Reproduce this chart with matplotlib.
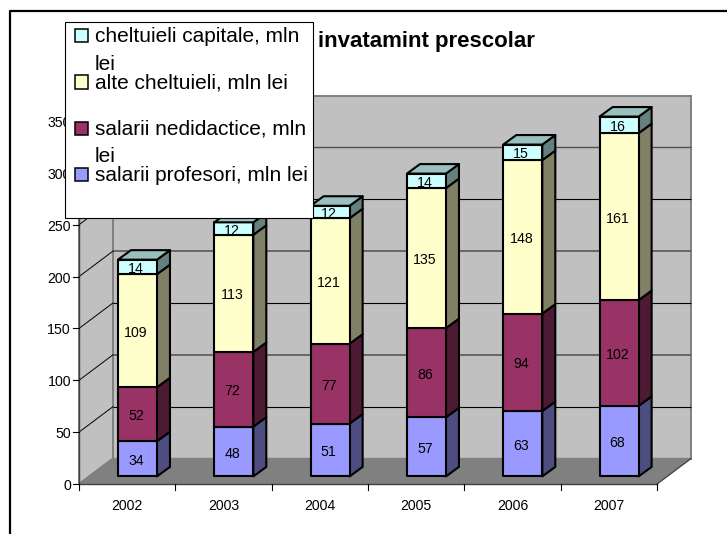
import numpy as np
import matplotlib
matplotlib.use("Agg")
import matplotlib.pyplot as plt
from matplotlib.lines import Line2D
from matplotlib.patches import Polygon, Rectangle
from matplotlib.legend_handler import HandlerBase

plt.rcParams['font.family'] = ['Liberation Sans', 'DejaVu Sans']

years = ['2002', '2003', '2004', '2005', '2006', '2007']
profesori = [34, 48, 51, 57, 63, 68]
nedidactice = [52, 72, 77, 86, 94, 102]
alte = [109, 113, 121, 135, 148, 161]
capitale = [14, 12, 12, 14, 15, 16]
y_ticks = [0, 50, 100, 150, 200, 250, 300, 350]

title_text = 'invatamint prescolar'
series = [
    ('salarii profesori, mln lei\n ', profesori, '#9999FF', '#4D4D80'),
    ('salarii nedidactice, mln\nlei', nedidactice, '#993366', '#4D1A33'),
    ('alte cheltuieli, mln lei\n ', alte, '#FFFFCC', '#808066'),
    ('cheltuieli capitale, mln\nlei', capitale, '#CCFFFF', '#668080'),
]
top_color = '#99BFBF'

W, H = 727, 534
X0, Y0 = 79.0, 484.0           # pixel of the front origin
PX_CAT, PX_VAL = 96.33, 1.037  # pixels per category / per value unit
fig = plt.figure(figsize=(W / 100, H / 100), dpi=100, facecolor='white')
ax = fig.add_axes([0, 0, 1, 1])
ax.set_xlim(-X0 / PX_CAT, (W - X0) / PX_CAT)
ax.set_ylim((Y0 - H) / PX_VAL, Y0 / PX_VAL)
ax.axis('off')

px = lambda p: (p - X0) / PX_CAT
py = lambda p: (Y0 - p) / PX_VAL

# depth of the plot box and of the bars, in data units
DX, DY = 34 / PX_CAT, 25.5 / PX_VAL
BX, BY = 13 / PX_CAT, 9.5 / PX_VAL
SHIFT_X, SHIFT_Y = 0.107, 7.6 / PX_VAL
BAR_W = 0.405
n = len(years)
top = y_ticks[-1]

# chart border (left and top only are in view)
fig.add_artist(Line2D([9.5 / W, 9.5 / W, 1], [0, 1 - 11 / H, 1 - 11 / H], color='black', lw=1.6))

# walls and floor
ax.add_patch(Polygon([(DX, DY), (n + DX, DY), (n + DX, top + DY), (DX, top + DY)],
                     fc='#C0C0C0', ec='#808080', lw=1.4, zorder=1))
ax.add_patch(Polygon([(0, 0), (DX, DY), (DX, top + DY), (0, top)],
                     fc='#C0C0C0', ec='#808080', lw=1.4, zorder=1))
ax.add_patch(Polygon([(0, 0), (n, 0), (n + DX, DY), (DX, DY)],
                     fc='#808080', ec='#808080', lw=1, zorder=1))

# gridlines
grid_style = {50: ('black', 0.8), 100: ('#606060', 1.3), 150: ('black', 0.8), 200: ('#606060', 1.3),
              250: ('black', 0.8), 300: ('#505050', 1.0)}
for v, (c, lw) in grid_style.items():
    ax.plot([DX, n + DX], [v + DY, v + DY], color=c, lw=lw, zorder=2, solid_capstyle='butt')
for v in y_ticks[1:-1]:
    ax.plot([0, DX], [v, v + DY], color='black', lw=0.7, zorder=2)

# axes and ticks
ax.plot([0, 0], [0, top], color='#404040', lw=1.0, zorder=3)
ax.plot([0, n], [0, 0], color='#404040', lw=1.0, zorder=3)
ax.plot([n, n + DX], [0, DY], color='#404040', lw=0.8, zorder=3)
for v in y_ticks:
    ax.plot([0, -6 / PX_CAT], [v, v], color='black', lw=0.8, zorder=3)
    ax.text(-8 / PX_CAT, v - 2 / PX_VAL, str(v), ha='right', va='center', fontsize=10.2, color='black', zorder=3)
for i in range(n + 1):
    ax.plot([i, i], [0, -6 / PX_VAL], color='black', lw=0.8, zorder=3)
for i, year in enumerate(years):
    ax.text(i + 0.5, py(505.5), year, ha='center', va='center', fontsize=10.2, color='black', zorder=3)

# stacked 3-D bars
edge = dict(ec='black', lw=1.5, joinstyle='round', zorder=5)
bottoms = np.zeros(n)
for label, values, front, side in series:
    vals = np.array(values, dtype=float)
    for i in range(n):
        x0 = i + 0.5 + SHIFT_X - BAR_W / 2
        x1 = x0 + BAR_W
        b = SHIFT_Y + bottoms[i]
        t = b + vals[i]
        ax.add_patch(Polygon([(x1, b), (x1 + BX, b + BY), (x1 + BX, t + BY), (x1, t)], fc=side, **edge))
        ax.add_patch(Polygon([(x0, b), (x1, b), (x1, t), (x0, t)], fc=front, **edge))
        ax.text((x0 + x1) / 2 - 1.5 / PX_CAT, b + vals[i] / 2 - 2 / PX_VAL, f'{values[i]}',
                ha='center', va='center', fontsize=10.2, color='black', zorder=6)
    bottoms += vals
for i in range(n):
    x0 = i + 0.5 + SHIFT_X - BAR_W / 2
    x1 = x0 + BAR_W
    t = SHIFT_Y + bottoms[i]
    ax.add_patch(Polygon([(x0, t), (x1, t), (x1 + BX, t + BY), (x0 + BX, t + BY)], fc=top_color, **edge))

ax.set_title(title_text, x=(317 + 535) / 2 / W, y=1 - 47 / H, pad=0, fontsize=16,
             fontweight='bold', color='black')


class SquareHandler(HandlerBase):
    """Small square that lines up with the first line of a two-line label."""
    def create_artists(self, legend, orig, xd, yd, width, height, fontsize, trans):
        s = 9.4
        r = Rectangle((-xd + 2.9, -yd + height / 2 - s / 2 + 10.8), s, s,
                      fc=orig.get_facecolor(), ec='black', lw=1.1, transform=trans)
        return [r]


handles = [Rectangle((0, 0), 1, 1, fc=s[2]) for s in series][::-1]
labels = [s[0] for s in series][::-1]
leg = ax.legend(handles, labels, loc='upper left', bbox_to_anchor=(px(65.3), py(21.7)),
                bbox_transform=ax.transData, borderaxespad=0, fontsize=15, frameon=True,
                fancybox=False, framealpha=1, edgecolor='black', facecolor='white',
                labelspacing=0.0, handlelength=0.72, handletextpad=0.43, borderpad=0.27,
                handler_map={Rectangle: SquareHandler()})
leg.get_frame().set_linewidth(0.8)
leg.set_zorder(10)
for t in leg.get_texts():
    t.set_linespacing(1.555)

fig.savefig('out.png', dpi=100)
